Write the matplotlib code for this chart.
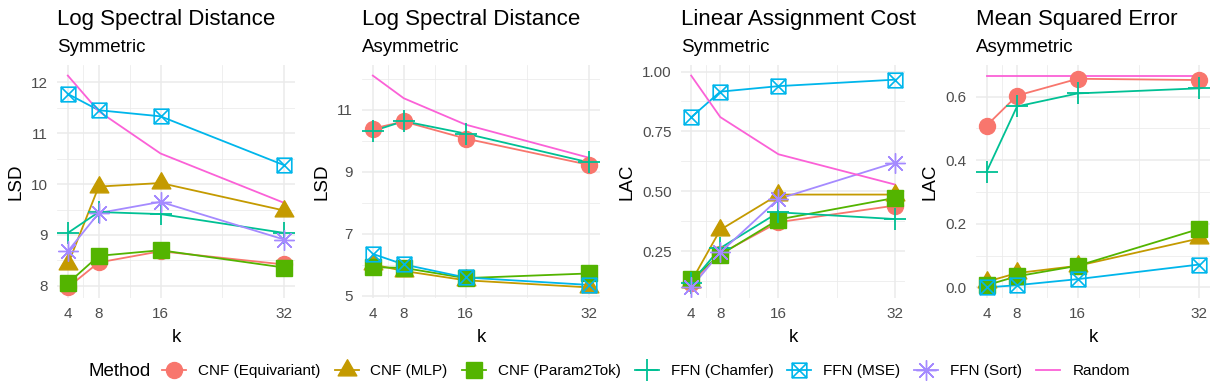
import numpy as np
import matplotlib
matplotlib.use("Agg")
import matplotlib.pyplot as plt
from matplotlib.path import Path
from matplotlib.lines import Line2D
from matplotlib.ticker import FixedLocator, FormatStrFormatter

plt.rcParams['font.family'] = ['Liberation Sans', 'DejaVu Sans']

# data
k = [4, 8, 16, 32]
methods = ["CNF (Equivariant)", "CNF (MLP)", "CNF (Param2Tok)",
           "FFN (Chamfer)", "FFN (MSE)", "FFN (Sort)", "Random"]
nan = np.nan

lsd_sym = [
    [7.97, 8.46, 8.68, 8.42],
    [8.42, 9.95, 10.02, 9.48],
    [8.05, 8.59, 8.70, 8.36],
    [9.04, 9.45, 9.41, 9.04],
    [11.77, 11.45, 11.33, 10.37],
    [8.68, 9.43, 9.65, 8.91],
    [12.13, 11.43, 10.60, 9.63],
]
lsd_asym = [
    [10.39, 10.62, 10.07, 9.22],
    [6.01, 5.80, 5.50, 5.27],
    [5.92, 5.90, 5.57, 5.72],
    [10.31, 10.63, 10.23, 9.30],
    [6.35, 6.01, 5.59, 5.35],
    [nan, nan, nan, nan],
    [12.10, 11.37, 10.52, 9.45],
]
lac_sym = [
    [0.120, 0.240, 0.372, 0.441],
    [0.124, 0.340, 0.487, 0.487],
    [0.134, 0.236, 0.383, 0.473],
    [0.120, 0.264, 0.413, 0.385],
    [0.809, 0.916, 0.939, 0.966],
    [0.100, 0.246, 0.469, 0.620],
    [0.983, 0.810, 0.655, 0.529],
]
mse_asym = [
    [0.509, 0.603, 0.656, 0.652],
    [0.018, 0.045, 0.068, 0.154],
    [0.007, 0.035, 0.068, 0.184],
    [0.364, 0.569, 0.610, 0.626],
    [0.000, 0.007, 0.026, 0.072],
    [nan, nan, nan, nan],
    [0.666, 0.666, 0.666, 0.666],
]

titles = ["Log Spectral Distance", "Log Spectral Distance",
          "Linear Assignment Cost", "Mean Squared Error"]
subtitles = ["Symmetric", "Asymmetric", "Symmetric", "Asymmetric"]
ylabels = ["LSD", "LSD", "LAC", "LAC"]
panels = [lsd_sym, lsd_asym, lac_sym, mse_asym]

colors = ['#F8766D', '#C49A00', '#53B400', '#00C094', '#00B6EB', '#A58AFF', '#FB61D7']

# custom markers: centroid triangle and boxed cross
tri = Path([(0, 1), (-0.866, -0.5), (0.866, -0.5), (0, 1)],
           [Path.MOVETO, Path.LINETO, Path.LINETO, Path.CLOSEPOLY])
boxx = Path([(-1, -1), (1, -1), (1, 1), (-1, 1), (-1, -1),
             (-1, -1), (1, 1), (-1, 1), (1, -1)],
            [Path.MOVETO, Path.LINETO, Path.LINETO, Path.LINETO, Path.CLOSEPOLY,
             Path.MOVETO, Path.LINETO, Path.MOVETO, Path.LINETO])
styles = [
    dict(marker='o', ms=11.5),
    dict(marker=tri, ms=15.5),
    dict(marker='s', ms=11.3),
    dict(marker='+', ms=15.5, mew=1.3),
    dict(marker=boxx, ms=10.5, mew=1.2, mfc='none'),
    dict(marker=(8, 2, 0), ms=14.5, mew=1.0),
    dict(marker='None'),
]

fig = plt.figure(figsize=(12.18, 3.89), dpi=100)
W, H = 1218, 389
boxes = [(57, 295), (362, 600), (681, 905), (976, 1210)]
top, bot = 65, 298

yticks = [
    ([8, 9, 10, 11, 12], [7.5, 8.5, 9.5, 10.5, 11.5, 12.5], '%d'),
    ([5, 7, 9, 11], [6, 8, 10, 12], '%d'),
    ([0.25, 0.50, 0.75, 1.00], [0.125, 0.375, 0.625, 0.875], '%.2f'),
    ([0.0, 0.2, 0.4, 0.6], [0.1, 0.3, 0.5, 0.7], '%.1f'),
]

for i, data in enumerate(panels):
    l, r = boxes[i]
    ax = fig.add_axes([l / W, 1 - bot / H, (r - l) / W, (bot - top) / H])
    for j, m in enumerate(methods):
        ax.plot(k, data[j], color=colors[j], lw=1.3, zorder=2)
    for j, m in enumerate(methods):
        if j == 6:
            continue
        st = dict(styles[j])
        mfc = st.pop('mfc', colors[j])
        ax.plot(k, data[j], ls='none', color=colors[j], mfc=mfc, mec=colors[j],
                zorder=3, **st)
    ax.margins(x=0.05, y=0.05)
    ylo, yhi = ax.get_ylim()
    ax.set_xticks(k)
    ax.xaxis.set_minor_locator(FixedLocator([6, 12, 24]))
    maj, mnr, fmt = yticks[i]
    ax.yaxis.set_major_locator(FixedLocator(maj))
    ax.yaxis.set_minor_locator(FixedLocator(mnr))
    ax.yaxis.set_major_formatter(FormatStrFormatter(fmt))
    ax.set_ylim(ylo, yhi)
    ax.grid(which='major', color='#EBEBEB', lw=1.1)
    ax.grid(which='minor', color='#EBEBEB', lw=0.55)
    ax.set_axisbelow(True)
    for s in ax.spines.values():
        s.set_visible(False)
    ax.tick_params(which='both', length=0, labelsize=11, labelcolor='#4D4D4D')
    ax.tick_params(axis='y', pad=6.5)
    ax.tick_params(axis='x', pad=6.5)
    ax.set_xlabel('k', fontsize=13.5, labelpad=5.5)
    ax.set_ylabel(ylabels[i], fontsize=13.5, labelpad=5)
    ax.annotate(titles[i], xy=(0, 1), xycoords='axes fraction', xytext=(0, 28.5),
                textcoords='offset points', fontsize=16, va='baseline', ha='left')
    ax.annotate(subtitles[i], xy=(0, 1), xycoords='axes fraction', xytext=(0, 9.5),
                textcoords='offset points', fontsize=13.5, va='baseline', ha='left')

handles = []
for j, m in enumerate(methods):
    st = dict(styles[j])
    mfc = st.pop('mfc', colors[j])
    handles.append(Line2D([], [], color=colors[j], lw=1.3, mfc=mfc, mec=colors[j], **st))

fig.legend(handles, methods, loc='center', bbox_to_anchor=(646 / W, 1 - 371 / H),
           ncol=7, frameon=False, fontsize=11, handlelength=1.57,
           handletextpad=0.78, columnspacing=0.92)
fig.text(88 / W, 1 - 371 / H, 'Method', fontsize=13.5, va='center', ha='left')

fig.savefig('out.png', dpi=100)
